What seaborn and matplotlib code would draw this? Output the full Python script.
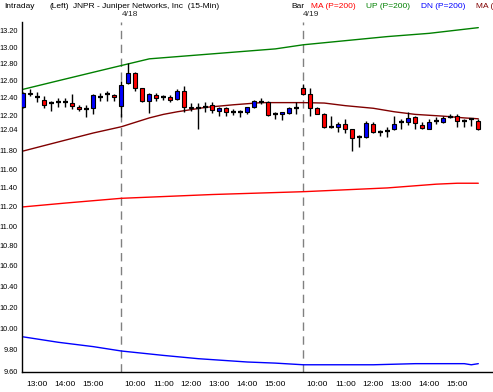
import numpy as np
import pandas as pd
import matplotlib
matplotlib.use("Agg")
import matplotlib.pyplot as plt
import matplotlib.ticker as mticker
import seaborn as sns

# ---------------- data ----------------
bar_times = (["12:30", "12:45", "13:00", "13:15", "13:30", "13:45", "14:00", "14:15",
              "14:30", "14:45", "15:00", "15:15", "15:30", "15:45"]
             + ["09:30", "09:45", "10:00", "10:15", "10:30", "10:45", "11:00", "11:15",
                "11:30", "11:45", "12:00", "12:15", "12:30", "12:45", "13:00", "13:15",
                "13:30", "13:45", "14:00", "14:15", "14:30", "14:45", "15:00", "15:15",
                "15:30", "15:45"] * 2)
day_labels = ["4/18", "4/19"]

opens = [12.29, 12.46, 12.41, 12.37, 12.34, 12.35, 12.35, 12.34, 12.30, 12.27, 12.28, 12.41, 12.44, 12.43,
         12.31, 12.57, 12.69, 12.51, 12.36, 12.43, 12.41, 12.41, 12.39, 12.48, 12.30, 12.28, 12.30,
         12.32, 12.25, 12.28, 12.24, 12.24, 12.24, 12.30, 12.35, 12.35, 12.21, 12.21, 12.23, 12.28,
         12.51, 12.45, 12.28, 12.22, 12.07, 12.07, 12.10, 12.04, 11.95, 11.96, 12.10, 12.01, 12.02,
         12.04, 12.12, 12.12, 12.18, 12.09, 12.05, 12.14, 12.12, 12.18, 12.19, 12.13, 12.16, 12.14]
highs = [12.47, 12.50, 12.47, 12.42, 12.36, 12.40, 12.40, 12.44, 12.32, 12.32, 12.45, 12.46, 12.48, 12.45,
         12.60, 12.81, 12.70, 12.52, 12.46, 12.46, 12.43, 12.43, 12.50, 12.54, 12.34, 12.34, 12.35,
         12.35, 12.30, 12.30, 12.27, 12.26, 12.30, 12.37, 12.40, 12.36, 12.24, 12.24, 12.29, 12.35,
         12.56, 12.52, 12.30, 12.23, 12.19, 12.12, 12.16, 12.05, 11.98, 12.13, 12.12, 12.03, 12.07,
         12.19, 12.16, 12.24, 12.19, 12.12, 12.16, 12.18, 12.19, 12.22, 12.21, 12.16, 12.17, 12.16]
lows = [12.28, 12.42, 12.35, 12.28, 12.25, 12.30, 12.30, 12.27, 12.25, 12.18, 12.21, 12.36, 12.36, 12.36,
        12.18, 12.56, 12.48, 12.35, 12.23, 12.36, 12.37, 12.35, 12.37, 12.24, 12.25, 12.05, 12.24,
        12.23, 12.19, 12.19, 12.20, 12.18, 12.22, 12.28, 12.33, 12.19, 12.16, 12.15, 12.22, 12.22,
        12.43, 12.19, 12.21, 12.06, 12.06, 12.01, 12.00, 11.80, 11.84, 11.94, 12.00, 11.97, 11.96,
        12.03, 12.05, 12.09, 12.05, 12.05, 12.04, 12.10, 12.11, 12.17, 12.07, 12.07, 12.08, 12.03]
closes = [12.46, 12.44, 12.41, 12.32, 12.34, 12.35, 12.35, 12.31, 12.27, 12.27, 12.43, 12.41, 12.44, 12.41,
          12.55, 12.69, 12.52, 12.36, 12.44, 12.40, 12.41, 12.37, 12.48, 12.30, 12.28, 12.28, 12.30,
          12.26, 12.28, 12.24, 12.24, 12.24, 12.29, 12.36, 12.35, 12.20, 12.21, 12.24, 12.28, 12.28,
          12.45, 12.28, 12.22, 12.07, 12.07, 12.10, 12.05, 11.94, 11.95, 12.11, 12.01, 12.01, 12.02,
          12.10, 12.12, 12.17, 12.11, 12.06, 12.12, 12.14, 12.17, 12.18, 12.13, 12.13, 12.16, 12.05]

# indicator lines: (bar index, value) readings
ma_x = [0, 6, 14, 27, 40, 52, 59, 62, 65]
ma_y = [11.20, 11.24, 11.29, 11.33, 11.36, 11.40, 11.44, 11.45, 11.45]
up_x = [0, 5, 10, 14, 18, 24, 30, 36, 40, 46, 52, 58, 62, 65]
up_y = [12.50, 12.60, 12.70, 12.78, 12.86, 12.90, 12.94, 12.98, 13.03, 13.08, 13.13, 13.17, 13.21, 13.24]
dn_x = [0, 5, 10, 14, 20, 25, 32, 36, 40, 50, 56, 63, 64, 65]
dn_y = [9.92, 9.87, 9.83, 9.79, 9.75, 9.72, 9.69, 9.68, 9.665, 9.665, 9.675, 9.675, 9.665, 9.675]
ma2_x = [0, 3, 6, 10, 14, 16, 18, 20, 22, 26, 30, 34, 40, 43, 46, 50, 53, 56, 60, 63, 65]
ma2_y = [11.80, 11.86, 11.92, 12.00, 12.07, 12.12, 12.17, 12.21, 12.24, 12.29, 12.32, 12.345, 12.345,
         12.34, 12.31, 12.28, 12.24, 12.21, 12.19, 12.17, 12.16]

y_tick_vals = [9.6, 9.8, 10.0, 10.2, 10.4, 10.6, 10.8, 11.0, 11.2, 11.4, 11.6, 11.8, 12.04,
               12.2, 12.4, 12.6, 12.8, 13.0, 13.2]

# ---------------- style ----------------
sns.set_style("white")
FONT = ["Liberation Sans", "DejaVu Sans"]
plt.rcParams["font.family"] = FONT
FS = 6.0
YFS = 5.3

W, H = 493, 392
fig = plt.figure(figsize=(W / 100, H / 100), dpi=100)
fig.patch.set_facecolor("white")
ax = fig.add_axes([22 / W, 20 / H, (W - 22) / W, 350 / H])
ax.set_facecolor("white")

n = len(opens)
idx = np.arange(n)

# day separators
sep_idx = [i for i, t in enumerate(bar_times) if t == "09:30"]
for s in sep_idx:
    ax.axvline(s, color="#808080", lw=1, ls=(0, (6, 4)), zorder=1)

# indicator lines via seaborn
lines_df = pd.concat([
    pd.DataFrame({"bar": ma_x, "val": ma_y, "series": "MA"}),
    pd.DataFrame({"bar": up_x, "val": up_y, "series": "UP"}),
    pd.DataFrame({"bar": dn_x, "val": dn_y, "series": "DN"}),
    pd.DataFrame({"bar": ma2_x, "val": ma2_y, "series": "MA2"}),
])
sns.lineplot(data=lines_df, x="bar", y="val", hue="series", ax=ax, legend=False,
             palette={"MA": "#ff0000", "UP": "#008000", "DN": "#0000ff", "MA2": "#800000"},
             linewidth=1.0, estimator=None, sort=True, zorder=2)

# candlesticks
o = np.array(opens); h = np.array(highs); l = np.array(lows); c = np.array(closes)
ax.vlines(idx, l, h, color="black", lw=1.0, zorder=3)
body_lo = np.minimum(o, c)
body_hi = np.maximum(o, c)
colors = ["#0000ff" if cc > oo else "#ff0000" for oo, cc in zip(o, c)]
has_body = np.abs(c - o) > 1e-9
ax.bar(idx[has_body], (body_hi - body_lo)[has_body], bottom=body_lo[has_body], width=0.62,
       color=np.array(colors)[has_body], edgecolor="black", linewidth=0.8, zorder=4)
doji = ~has_body
ax.hlines(o[doji], idx[doji] - 0.35, idx[doji] + 0.35, color="black", lw=1.6, zorder=4)

# axes scaling
ax.set_yscale("log")
ax.set_ylim(9.6, 13.31)
ax.set_xlim(-0.19, 67.1)

ax.yaxis.set_major_locator(mticker.FixedLocator(y_tick_vals))
ax.yaxis.set_major_formatter(mticker.FixedFormatter([f"{v:.2f}" for v in y_tick_vals]))
ax.yaxis.set_minor_locator(mticker.FixedLocator(np.arange(9.6, 13.3, 0.04)))
ax.yaxis.set_minor_formatter(mticker.NullFormatter())

hour_idx = [i for i, t in enumerate(bar_times) if t.endswith(":00")]
ax.xaxis.set_major_locator(mticker.FixedLocator(hour_idx))
ax.xaxis.set_major_formatter(mticker.FixedFormatter([bar_times[i] for i in hour_idx]))
ax.xaxis.set_minor_locator(mticker.FixedLocator(idx))

ax.tick_params(axis="y", which="major", direction="out", length=2.5, width=0.8,
               colors="black", labelsize=YFS, pad=0.5)
ax.tick_params(axis="y", which="minor", direction="out", length=1.5, width=0.8, colors="black")
ax.tick_params(axis="x", which="major", direction="out", length=4, width=0.8,
               colors="black", labelsize=FS, pad=2.5)
ax.tick_params(axis="x", which="minor", direction="out", length=3, width=0.8, colors="black")
ax.set_xlabel("")
ax.set_ylabel("")

for side in ["top", "right"]:
    ax.spines[side].set_visible(False)
for side in ["left", "bottom"]:
    ax.spines[side].set_color("black")
    ax.spines[side].set_linewidth(1.0)

# header texts
def ftext(x, y, s, color="black", ha="left"):
    fig.text(x / W, 1 - y / H, s, color=color, fontsize=FS, ha=ha, va="center", family=FONT)

ftext(4, 6, "Intraday")
ftext(49, 6, "(Left)")
ftext(73, 6, "JNPR - Juniper Networks, Inc  (15-Min)")
ftext(291, 6, "Bar")
ftext(311, 6, "MA (P=200)", color="#ff0000")
ftext(366, 6, "UP (P=200)", color="#008000")
ftext(421, 6, "DN (P=200)", color="#0000ff")
ftext(476, 6, "MA (", color="#800000")

for s, lab in zip(sep_idx, day_labels):
    ax.annotate(lab, xy=(s, 1), xycoords=("data", "axes fraction"), xytext=(0, 7),
                textcoords="offset pixels", fontsize=FS, ha="left", va="center", family=FONT)

fig.savefig("out.png", dpi=100, facecolor="white")
